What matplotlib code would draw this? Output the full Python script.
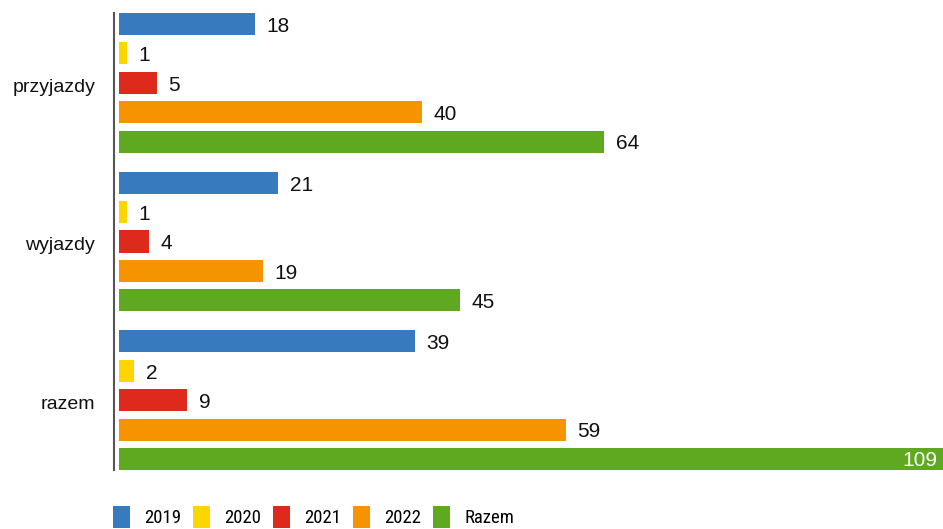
import matplotlib.pyplot as plt
from matplotlib import font_manager
from matplotlib.patches import Patch

categories = ["przyjazdy", "wyjazdy", "razem"]
series = ["2019", "2020", "2021", "2022", "Razem"]
values = {
    "2019": [18, 21, 39],
    "2020": [1, 1, 2],
    "2021": [5, 4, 9],
    "2022": [40, 19, 59],
    "Razem": [64, 45, 109],
}
colors = ["#377abe", "#fdd600", "#de2a1c", "#f59400", "#5fa920"]


def pick_font(names):
    for n in names:
        try:
            font_manager.findfont(n, fallback_to_default=False)
            return n
        except ValueError:
            continue
    return "DejaVu Sans"


main_font = pick_font(["Liberation Sans", "Arimo", "Roboto"])
narrow_font = pick_font(["Liberation Sans Narrow", "Roboto Condensed", "DejaVu Sans Condensed", main_font])
plt.rcParams["font.family"] = [main_font, "DejaVu Sans"]

group_step = 5.4
bar_h = 0.75

fig = plt.figure(figsize=(9.43, 5.29), dpi=100)
ax = fig.add_axes([119 / 943, 1 - 470 / 529, 824 / 943, 457 / 529])

xmax = 108.7
for s, (name, color) in enumerate(zip(series, colors)):
    ys = [g * group_step + s for g in range(len(categories))]
    ax.barh(ys, values[name], height=bar_h, color=color)
    for y, v in zip(ys, values[name]):
        if v > xmax * 0.9:
            ax.text(xmax - 0.7, y + 0.05, str(v), ha="right", va="center",
                    fontsize=15, color="white")
        else:
            ax.text(v + 1.5, y + 0.08, str(v), ha="left", va="center",
                    fontsize=15, color="#111111")

ax.set_xlim(0, xmax)
ax.set_ylim(2 * group_step + 4 + bar_h / 2, -bar_h / 2)
ax.set_xticks([])
ax.tick_params(axis="y", length=0, pad=13.5, labelsize=14, labelcolor="#111111")
ax.set_yticks([g * group_step + 2.08 for g in range(len(categories))])
ax.set_yticklabels(categories)
for side in ["top", "right", "bottom"]:
    ax.spines[side].set_visible(False)
ax.spines["left"].set_position(("outward", 3.6))
ax.spines["left"].set_color("#555555")
ax.spines["left"].set_linewidth(1.5)

# legend along the bottom edge, squares partly running off the figure
handles = [Patch(facecolor=c, edgecolor="none") for c in colors]
fig.legend(handles, series, loc="center left", bbox_to_anchor=(113 / 943, 1 - 517 / 529),
           ncol=5, frameon=False, borderpad=0, borderaxespad=0,
           handlelength=0.907, handleheight=1.5,
           handletextpad=0.75, columnspacing=0.64,
           prop={"family": narrow_font, "size": 13.5})

fig.savefig("out.png", dpi=100)
